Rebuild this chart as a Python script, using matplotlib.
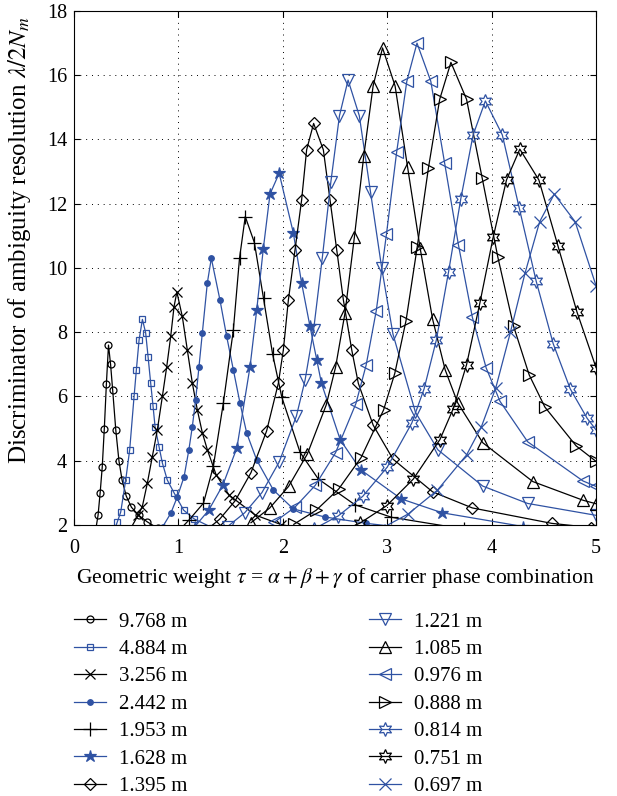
import matplotlib.pyplot as plt

plt.rcParams['font.family'] = ['Liberation Serif', 'DejaVu Serif']
plt.rcParams['mathtext.fontset'] = 'stix'

labels = ['9.768 m', '4.884 m', '3.256 m', '2.442 m', '1.953 m', '1.628 m', '1.395 m',
          '1.221 m', '1.085 m', '0.976 m', '0.888 m', '0.814 m', '0.751 m', '0.697 m']

# geometric weight tau and discriminator values, one pair per wavelength
tau1 = [0.20, 0.23, 0.25, 0.27, 0.29, 0.31, 0.33, 0.35, 0.37, 0.40, 0.43, 0.46, 0.50, 0.55, 0.62, 0.70, 0.80]
dis1 = [1.70, 2.30, 3.00, 3.80, 5.00, 6.40, 7.60, 7.00, 6.20, 4.95, 4.00, 3.40, 2.90, 2.55, 2.30, 2.10, 1.90]

tau2 = [0.36, 0.415, 0.447, 0.495, 0.533, 0.575, 0.597, 0.623, 0.655, 0.686, 0.709, 0.734, 0.757, 0.776,
        0.814, 0.846, 0.893, 0.958, 1.05, 1.15, 1.32]
dis2 = [1.60, 2.10, 2.40, 3.40, 4.34, 6.00, 6.83, 7.76, 8.40, 7.98, 7.24, 6.42, 5.69, 5.06,
        4.44, 3.93, 3.40, 3.00, 2.46, 2.19, 1.92]

tau3 = [0.52, 0.615, 0.654, 0.702, 0.75, 0.798, 0.846, 0.888, 0.926, 0.958, 0.985, 1.037, 1.085, 1.133,
        1.181, 1.229, 1.277, 1.36, 1.485, 1.735, 1.985, 2.485]
dis3 = [1.76, 2.31, 2.57, 3.30, 4.13, 4.96, 6.00, 6.93, 7.87, 8.80, 9.25, 8.49, 7.45, 6.42,
        5.58, 4.87, 4.34, 3.57, 2.93, 2.31, 2.01, 1.72]

tau4 = [0.85, 0.926, 0.99, 1.054, 1.10, 1.133, 1.165, 1.197, 1.229, 1.277, 1.315, 1.398, 1.462, 1.526,
        1.59, 1.654, 1.75, 1.909, 2.10, 2.40, 2.80, 3.20]
dis4 = [1.95, 2.36, 2.88, 3.50, 4.34, 5.06, 5.90, 6.93, 7.98, 9.54, 10.30, 9.00, 7.87, 6.83,
        5.79, 4.86, 4.02, 3.09, 2.50, 2.25, 2.05, 1.90]

tau5 = [0.98, 1.10, 1.24, 1.334, 1.43, 1.526, 1.585, 1.64, 1.7275, 1.815, 1.9025, 1.99, 2.165, 2.34,
        2.69, 3.04, 3.74]
dis5 = [1.74, 2.15, 2.68, 3.82, 5.79, 8.07, 10.30, 11.60, 10.79, 9.05, 7.31, 5.98, 4.26, 3.43,
        2.63, 2.24, 1.87]

tau6 = [1.155, 1.29, 1.425, 1.56, 1.686, 1.75, 1.813, 1.877, 1.965, 2.10, 2.18, 2.26, 2.325, 2.37,
        2.55, 2.745, 3.135, 3.525, 4.305]
dis6 = [1.94, 2.46, 3.24, 4.40, 6.93, 8.70, 10.60, 12.30, 12.95, 11.10, 9.53, 8.18, 7.14, 6.41,
        4.65, 3.72, 2.81, 2.38, 1.95]

tau7 = [1.245, 1.395, 1.545, 1.695, 1.845, 1.957, 2.005, 2.053, 2.117, 2.18, 2.228, 2.295, 2.388, 2.452,
        2.516, 2.58, 2.66, 2.723, 2.865, 3.055, 3.435, 3.815, 4.575, 4.955]
dis7 = [1.78, 2.18, 2.76, 3.63, 4.93, 6.41, 7.45, 9.00, 10.57, 12.12, 13.68, 14.50, 13.68, 12.12,
        10.57, 9.00, 7.45, 6.41, 5.11, 4.05, 3.03, 2.53, 2.05, 1.92]

tau8 = [1.47, 1.635, 1.80, 1.965, 2.13, 2.2125, 2.295, 2.3775, 2.46, 2.5425, 2.625, 2.7325, 2.84, 2.9475,
        3.055, 3.27, 3.485, 3.915, 4.345, 5.0]
dis8 = [1.95, 2.38, 3.01, 3.96, 5.39, 6.50, 8.08, 10.30, 12.68, 14.74, 15.85, 14.74, 12.36, 9.99,
        7.94, 5.51, 4.34, 3.21, 2.67, 2.30]

tau9 = [1.695, 1.875, 2.055, 2.235, 2.415, 2.505, 2.595, 2.685, 2.775, 2.865, 2.955, 3.075, 3.195, 3.315,
        3.435, 3.555, 3.675, 3.915, 4.395, 4.875, 5.0]
dis9 = [2.07, 2.53, 3.20, 4.21, 5.73, 6.91, 8.59, 10.95, 13.48, 15.67, 16.85, 15.67, 13.14, 10.62,
        8.40, 6.83, 5.80, 4.56, 3.35, 2.77, 2.66]

tau10 = [1.92, 2.115, 2.31, 2.505, 2.70, 2.7975, 2.895, 2.9925, 3.09, 3.1875, 3.285, 3.4175, 3.55, 3.6825,
         3.815, 3.9475, 4.08, 4.345, 4.875, 5.0]
dis10 = [2.09, 2.55, 3.23, 4.25, 5.78, 6.97, 8.67, 11.05, 13.60, 15.81, 17.00, 15.81, 13.26, 10.71,
         8.47, 6.89, 5.85, 4.59, 3.37, 3.20]

tau11 = [2.105, 2.32, 2.535, 2.75, 2.965, 3.0725, 3.18, 3.2875, 3.395, 3.5025, 3.61, 3.76, 3.91, 4.06,
         4.21, 4.36, 4.51, 4.81, 5.0]
dis11 = [2.02, 2.46, 3.12, 4.10, 5.58, 6.72, 8.36, 10.66, 13.12, 15.25, 16.40, 15.25, 12.79, 10.33,
         8.19, 6.67, 5.67, 4.46, 3.98]

tau12 = [2.295, 2.53, 2.765, 3.0, 3.235, 3.3525, 3.47, 3.5875, 3.705, 3.8225, 3.94, 4.1025, 4.265, 4.4275,
         4.59, 4.7525, 4.915, 5.0]
dis12 = [1.87, 2.28, 2.89, 3.80, 5.17, 6.23, 7.75, 9.88, 12.16, 14.14, 15.20, 14.14, 11.86, 9.58,
         7.64, 6.24, 5.32, 4.96]

tau13 = [2.485, 2.74, 2.995, 3.25, 3.505, 3.6325, 3.76, 3.8875, 4.015, 4.1425, 4.27, 4.4525, 4.635, 4.8175, 5.0]
dis13 = [1.69, 2.06, 2.60, 3.43, 4.66, 5.62, 6.99, 8.91, 10.96, 12.74, 13.70, 12.74, 10.69, 8.63, 6.90]

tau14 = [2.64, 2.92, 3.20, 3.48, 3.76, 3.90, 4.04, 4.18, 4.32, 4.46, 4.60, 4.80, 5.0]
dis14 = [1.51, 1.85, 2.34, 3.08, 4.18, 5.04, 6.27, 8.00, 9.84, 11.44, 12.30, 11.44, 9.45]

taus = [tau1, tau2, tau3, tau4, tau5, tau6, tau7, tau8, tau9, tau10, tau11, tau12, tau13, tau14]
diss = [dis1, dis2, dis3, dis4, dis5, dis6, dis7, dis8, dis9, dis10, dis11, dis12, dis13, dis14]

blue = '#2f52a3'
hexagram = (6, 1, 0)
# marker, colour, size, open face
styles = [('o', 'k', 5, True), ('s', blue, 4.5, True), ('x', 'k', 7, False), ('.', blue, 8, False),
          ('+', 'k', 10, False), ('*', blue, 9, False), ('D', 'k', 6.5, True), ('v', blue, 9, True),
          ('^', 'k', 9, True), ('<', blue, 9, True), ('>', 'k', 9, True), (hexagram, blue, 10, True),
          (hexagram, 'k', 10, True), ('x', blue, 8, False)]

fig = plt.figure(figsize=(6.17, 7.96), dpi=100)
ax = fig.add_axes([0.12, 0.3405, 0.846, 0.6457])

handles = []
for tau, dis, (mk, col, ms, hollow), lab in zip(taus, diss, styles, labels):
    h, = ax.plot(tau, dis, color=col, marker=mk, ms=ms, mfc='none' if hollow else col,
                 mew=0.9, lw=0.9, label=lab)
    handles.append(h)

ax.set_xlim(0, 5)
ax.set_ylim(2, 18)
ax.set_xticks(range(0, 6))
ax.set_yticks(range(2, 19, 2))
ax.grid(True, linestyle=(0, (1, 5)), color='k', lw=0.7)
ax.tick_params(direction='in', top=True, right=True, labelsize=14.5, length=4)
ax.tick_params(axis='x', pad=10)
ax.tick_params(axis='y', pad=5)
ax.set_xlabel(r'Geometric weight $\tau$ = $\alpha + \beta + \gamma$ of carrier phase combination',
              fontsize=15.5, labelpad=6)
ax.set_ylabel(r'Discriminator of ambiguity resolution $\lambda/2N_m$', fontsize=18)
ax.yaxis.set_label_coords(-0.078, 0.555)

leg_kw = dict(loc='upper left', frameon=False, fontsize=15, handlelength=1.55, handletextpad=0.6,
              labelspacing=0.375, borderpad=0, borderaxespad=0)
fig.legend(handles[:7], labels[:7], bbox_to_anchor=(0.12, 0.231), **leg_kw)
fig.legend(handles[7:], labels[7:], bbox_to_anchor=(0.598, 0.231), **leg_kw)

fig.savefig('out.png', dpi=100)
